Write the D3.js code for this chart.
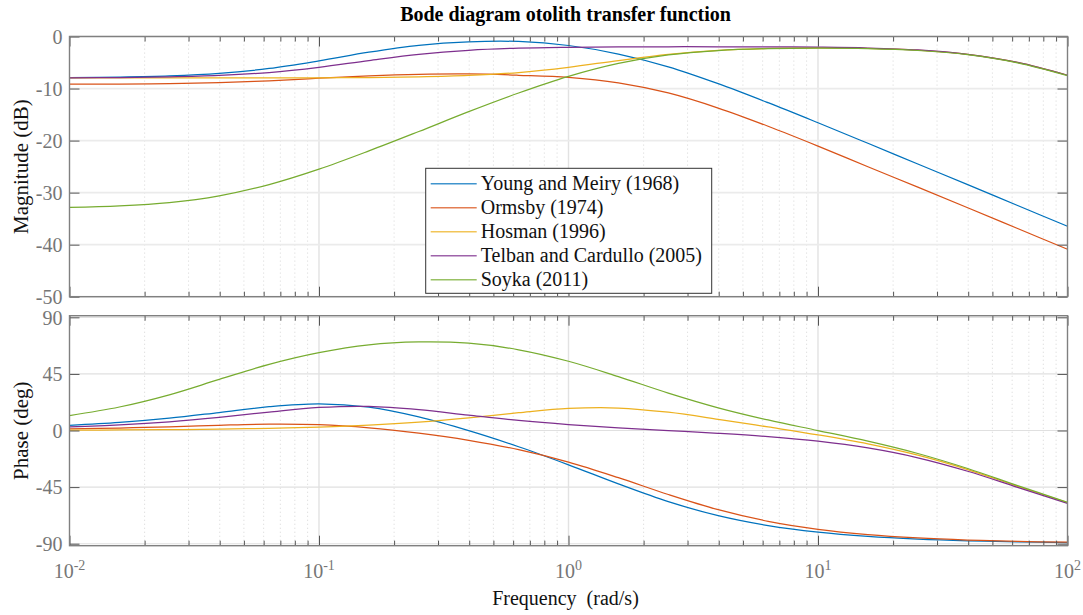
<!DOCTYPE html>
<html>
<head>
<meta charset="utf-8">
<script src="https://cdn.jsdelivr.net/npm/d3@7"></script>
<style>
  body { margin: 0; background: #fff; }
  svg { display: block; font-family: "Liberation Serif", "Times New Roman", serif; }
</style>
</head>
<body>
<svg id="chart" width="1083" height="615"></svg>
<script>
// Frequencies (rad/s), five points per decade
const freq = [0.01, 0.01585, 0.02512, 0.03981, 0.0631, 0.1, 0.1585, 0.2512, 0.3981, 0.631,
              1, 1.585, 2.512, 3.981, 6.31, 10, 15.85, 25.12, 39.81, 63.1, 100];

// Magnitude (dB)
const magYoung  = [-7.90, -7.81, -7.59, -7.10, -6.14, -4.68, -3.02, -1.70, -1.03, -0.96,
                   -1.73, -3.37, -5.82, -9.06, -12.72, -16.58, -20.52, -24.50, -28.47, -32.48, -36.47];
const magOrmsby = [-9.17, -9.13, -9.04, -8.86, -8.51, -8.02, -7.56, -7.27, -7.20, -7.45,
                   -7.85, -8.90, -10.85, -13.75, -17.25, -21.06, -25.03, -28.94, -32.90, -36.89, -40.89];
const magHosman = [-7.96, -7.96, -7.96, -7.96, -7.95, -7.93, -7.88, -7.76, -7.49, -6.92,
                   -5.92, -4.62, -3.44, -2.66, -2.29, -2.18, -2.26, -2.61, -3.43, -4.99, -7.45];
const magTelban = [-7.93, -7.88, -7.76, -7.49, -6.92, -5.92, -4.62, -3.43, -2.65, -2.24,
                   -2.07, -1.99, -1.97, -1.97, -1.98, -2.05, -2.21, -2.59, -3.42, -4.99, -7.45];
const magSoyka  = [-32.85, -32.56, -31.92, -30.62, -28.46, -25.49, -21.99, -18.26, -14.44, -10.86,
                   -7.66, -5.17, -3.55, -2.70, -2.33, -2.23, -2.32, -2.69, -3.49, -5.06, -7.51];

// Phase (deg)
const phaseYoung  = [4.11, 6.40, 9.80, 14.30, 18.93, 21.20, 18.52, 10.77, -0.15, -12.93,
                     -27.28, -42.48, -56.56, -67.71, -75.60, -80.82, -84.20, -86.32, -87.68, -88.54, -89.07];
const phaseOrmsby = [1.26, 1.96, 2.95, 4.17, 5.07, 4.64, 2.14, -2.13, -7.81, -15.26,
                     -25.13, -37.49, -50.89, -62.96, -72.18, -78.54, -82.72, -85.39, -87.08, -88.16, -88.84];
const phaseHosman = [0.28, 0.44, 0.70, 1.10, 1.75, 2.76, 4.33, 6.71, 10.09, 14.15,
                     17.51, 17.90, 14.53, 8.94, 2.82, -3.49, -10.65, -19.63, -31.06, -44.36, -57.41];
const phaseTelban = [2.85, 4.48, 6.94, 10.45, 14.70, 18.34, 19.20, 16.60, 12.20, 8.00,
                     4.70, 2.10, 0.00, -2.20, -4.86, -8.50, -13.90, -21.70, -32.40, -45.20, -57.90];
const phaseSoyka  = [11.91, 18.70, 28.40, 40.60, 52.60, 61.90, 68.15, 70.40, 69.40, 64.20,
                     55.08, 42.87, 29.79, 18.08, 8.38, -0.04, -8.49, -18.27, -30.21, -43.82, -57.08];

const seriesNames = ["Young and Meiry (1968)", "Ormsby (1974)", "Hosman (1996)",
                     "Telban and Cardullo (2005)", "Soyka (2011)"];
const seriesColors = ["#0072BD", "#D95319", "#EDB120", "#7E2F8E", "#77AC30"];
const magSeries = [magYoung, magOrmsby, magHosman, magTelban, magSoyka];
const phaseSeries = [phaseYoung, phaseOrmsby, phaseHosman, phaseTelban, phaseSoyka];

const magTicks = [0, -10, -20, -30, -40, -50];
const phaseTicks = [90, 45, 0, -45, -90];
const decadeTicks = [0.01, 0.1, 1, 10, 100];
const decadeExponents = ["-2", "-1", "0", "1", "2"];

const svg = d3.select("#chart");
const left = 69.5, right = 1067.5;
const magTop = 36.5, magBot = 296.7, phTop = 315.7, phBot = 545.7;

const x = d3.scaleLog().domain([0.01, 100]).range([left, right]);
const yMag = d3.scaleLinear().domain([-50, 0]).range([magBot, magTop]);
const yPh = d3.scaleLinear().domain([-91.6, 91.3]).range([phBot, phTop]);

const minorTicks = [];
for (let e = -2; e < 2; e++) for (let m = 2; m <= 9; m++) minorTicks.push(+(m * Math.pow(10, e)).toPrecision(3));

function drawPanel(id, y, yTicks, top, bot, hGridWidth, hGridColor, values) {
  const g = svg.append("g").attr("class", "panel-" + id);

  // minor vertical grid (dotted)
  g.append("g").selectAll("line").data(minorTicks).join("line")
    .attr("x1", d => x(d)).attr("x2", d => x(d))
    .attr("y1", top).attr("y2", bot)
    .attr("stroke", "#d9d9d9").attr("stroke-width", 0.9)
    .attr("stroke-dasharray", "1.2,2.8");

  // decade vertical grid
  g.append("g").selectAll("line").data(decadeTicks.slice(1, -1)).join("line")
    .attr("x1", d => x(d)).attr("x2", d => x(d))
    .attr("y1", top).attr("y2", bot)
    .attr("stroke", "#e2e2e2").attr("stroke-width", 1.4);

  // horizontal grid
  g.append("g").selectAll("line").data(yTicks).join("line")
    .attr("x1", left).attr("x2", right)
    .attr("y1", d => y(d)).attr("y2", d => y(d))
    .attr("stroke", hGridColor).attr("stroke-width", hGridWidth);

  // curves
  g.append("clipPath").attr("id", "clip-" + id)
    .append("rect").attr("x", left).attr("y", top).attr("width", right - left).attr("height", bot - top);

  const line = d3.line()
    .x(d => x(d[0])).y(d => y(d[1]))
    .curve(d3.curveCatmullRom.alpha(0.5));

  g.append("g").attr("clip-path", `url(#clip-${id})`)
    .selectAll("path").data(values).join("path")
    .attr("d", vals => line(freq.map((f, i) => [f, vals[i]])))
    .attr("fill", "none")
    .attr("stroke", (d, i) => seriesColors[i])
    .attr("stroke-width", 1.25);

  // ticks: bottom and top (inward), y ticks left and right (inward)
  const tickStyle = sel => {
    sel.select(".domain").remove();
    sel.selectAll(".tick line").attr("stroke", "#555").attr("stroke-width", 1);
  };
  g.append("g").attr("transform", `translate(0,${bot})`)
    .call(d3.axisBottom(x).tickValues(minorTicks).tickSize(-5).tickFormat(""))
    .call(tickStyle);
  g.append("g").attr("transform", `translate(0,${bot})`)
    .call(d3.axisBottom(x).tickValues(decadeTicks).tickSize(-10).tickFormat(""))
    .call(tickStyle);
  g.append("g").attr("transform", `translate(0,${top})`)
    .call(d3.axisTop(x).tickValues(minorTicks).tickSize(-5).tickFormat(""))
    .call(tickStyle);
  g.append("g").attr("transform", `translate(0,${top})`)
    .call(d3.axisTop(x).tickValues(decadeTicks).tickSize(-10).tickFormat(""))
    .call(tickStyle);

  const leftAxis = g.append("g").attr("transform", `translate(${left},0)`)
    .call(d3.axisLeft(y).tickValues(yTicks).tickSize(-10).tickPadding(7).tickFormat(d => String(d)))
    .call(tickStyle);
  leftAxis.attr("font-family", null).attr("font-size", null);
  leftAxis.selectAll(".tick text")
    .attr("fill", "#767676").style("font-size", "20px")
    .attr("dy", "0.34em");

  g.append("g").attr("transform", `translate(${right},0)`)
    .call(d3.axisRight(y).tickValues(yTicks).tickSize(-10).tickFormat(""))
    .call(tickStyle);

  // box
  g.append("rect").attr("x", left).attr("y", top)
    .attr("width", right - left).attr("height", bot - top)
    .attr("fill", "none").attr("stroke", "#808080").attr("stroke-width", 1.4);

  return g;
}

drawPanel("mag", yMag, magTicks, magTop, magBot, 1.8, "#ebebeb", magSeries);
drawPanel("phase", yPh, phaseTicks, phTop, phBot, 1.1, "#e0e0e0", phaseSeries);

// decade labels 10^n below the phase panel
const xl = svg.append("g").selectAll("text").data(decadeTicks).join("text")
  .attr("x", d => x(d)).attr("y", 578)
  .attr("text-anchor", "middle")
  .attr("fill", "#767676")
  .style("font-size", "20px");
xl.append("tspan").text("10");
xl.append("tspan").attr("dy", -8).style("font-size", "14px").text((d, i) => decadeExponents[i]);

// axis labels
svg.append("text")
  .attr("transform", `translate(28,${(magTop + magBot) / 2}) rotate(-90)`)
  .attr("text-anchor", "middle").style("font-size", "21px").attr("fill", "#111")
  .text("Magnitude (dB)");
svg.append("text")
  .attr("transform", `translate(28,${(phTop + phBot) / 2}) rotate(-90)`)
  .attr("text-anchor", "middle").style("font-size", "21px").attr("fill", "#111")
  .text("Phase (deg)");
svg.append("text")
  .attr("x", (left + right) / 2 - 3).attr("y", 605)
  .attr("text-anchor", "middle").style("font-size", "20px").style("white-space", "pre")
  .attr("fill", "#111")
  .text("Frequency  (rad/s)");

// title
svg.append("text")
  .attr("x", (left + right) / 2 - 3).attr("y", 21)
  .attr("text-anchor", "middle").style("font-size", "20px").attr("font-weight", "bold")
  .attr("fill", "#000")
  .text("Bode diagram otolith transfer function");

// legend
const legend = svg.append("g").attr("transform", "translate(425.7,168.3)");
legend.append("rect").attr("width", 286).attr("height", 125)
  .attr("fill", "#fff").attr("stroke", "#333").attr("stroke-width", 1);
const items = legend.selectAll("g.item").data(seriesNames).join("g")
  .attr("class", "item")
  .attr("transform", (d, i) => `translate(0,${15.5 + i * 24})`);
items.append("line").attr("x1", 5).attr("x2", 51).attr("y1", 0).attr("y2", 0)
  .attr("stroke", (d, i) => seriesColors[i]).attr("stroke-width", 1.5).attr("stroke-opacity", 0.75);
items.append("text").attr("x", 55).attr("y", 6.5)
  .style("font-size", "20px").attr("fill", "#111")
  .text(d => d);
</script>
</body>
</html>
